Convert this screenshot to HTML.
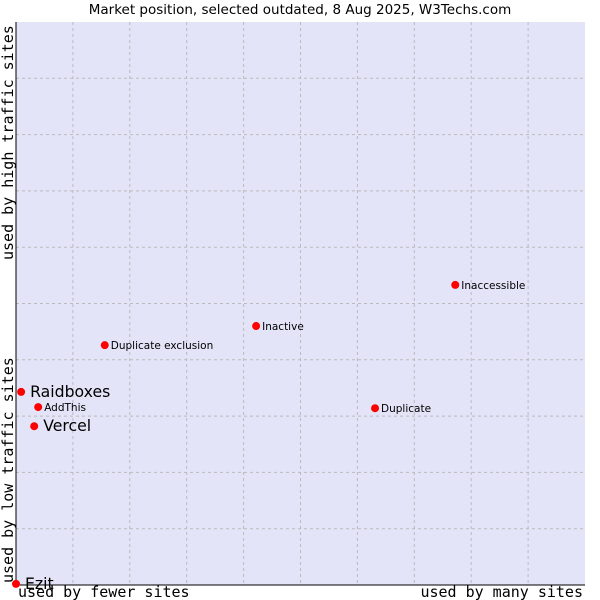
<!DOCTYPE html>
<html><head><meta charset="utf-8"><style>
body{margin:0;background:#fff;}
svg{display:block;font-family:"DejaVu Sans","Liberation Sans",sans-serif;}
</style></head><body>
<svg id="chart" width="600" height="600">
<text x="300" y="14" text-anchor="middle" font-size="13.5" fill="#000">Market position, selected outdated, 8 Aug 2025, W3Techs.com</text>
<rect x="16" y="22" width="569" height="563" fill="#e3e4f8"/>
<g id="grid"></g>
<line x1="16" y1="22" x2="16" y2="585" stroke="#000"/>
<line x1="16" y1="585" x2="585" y2="585" stroke="#000"/>
<text x="18" y="597" font-family="'DejaVu Sans Mono','Liberation Mono',monospace" font-size="15">used by fewer sites</text>
<text x="583" y="597" text-anchor="end" font-family="'DejaVu Sans Mono','Liberation Mono',monospace" font-size="15">used by many sites</text>
<text transform="translate(13,583) rotate(-90)" font-family="'DejaVu Sans Mono','Liberation Mono',monospace" font-size="15">used by low traffic sites</text>
<text transform="translate(13,260) rotate(-90)" font-family="'DejaVu Sans Mono','Liberation Mono',monospace" font-size="15">used by high traffic sites</text>
<g id="points"></g>
</svg>
<script>
const names=["Raidboxes","AddThis","Vercel","Ezit","Duplicate exclusion","Inactive","Inaccessible","Duplicate"];
const xVals=[0.9,3.9,3.2,0,15.6,42.2,77.2,63.1];
const yVals=[34.3,31.6,28.2,0.2,42.6,46.0,53.3,31.4];
const big=[true,false,true,true,false,false,false,false];
const L=16,R=585,T=22,B=585;
const sx=v=>L+v/100*(R-L), sy=v=>B-v/100*(B-T);
const ns="http://www.w3.org/2000/svg";
const grid=document.getElementById('grid');
for(let i=1;i<10;i++){
 const v=document.createElementNS(ns,'line');
 
 
 v.setAttribute('x1',sx(i*10));v.setAttribute('x2',sx(i*10));v.setAttribute('y1',T);v.setAttribute('y2',B);
 v.setAttribute('stroke','#bbb');v.setAttribute('stroke-dasharray','3,3');grid.appendChild(v);
 const h=document.createElementNS(ns,'line');
 
 
 h.setAttribute('y1',sy(i*10));h.setAttribute('y2',sy(i*10));h.setAttribute('x1',L);h.setAttribute('x2',R);
 h.setAttribute('stroke','#bbb');h.setAttribute('stroke-dasharray','3,3');grid.appendChild(h);
}
const pts=document.getElementById('points');
names.forEach((n,i)=>{
 const x=sx(xVals[i]),y=sy(yVals[i]);
 const c=document.createElementNS(ns,'circle');
 
 
 c.setAttribute('cx',x);c.setAttribute('cy',y);c.setAttribute('r',4);c.setAttribute('fill','#f00');
 pts.appendChild(c);
 const t=document.createElementNS(ns,'text');
 
 
 t.setAttribute('x',x+(big[i]?9:6));t.setAttribute('y',y+(big[i]?5:4));
 t.setAttribute('font-size',big[i]?15.7:10.5);t.textContent=n;
 pts.appendChild(t);
});
</script>
</body></html>
